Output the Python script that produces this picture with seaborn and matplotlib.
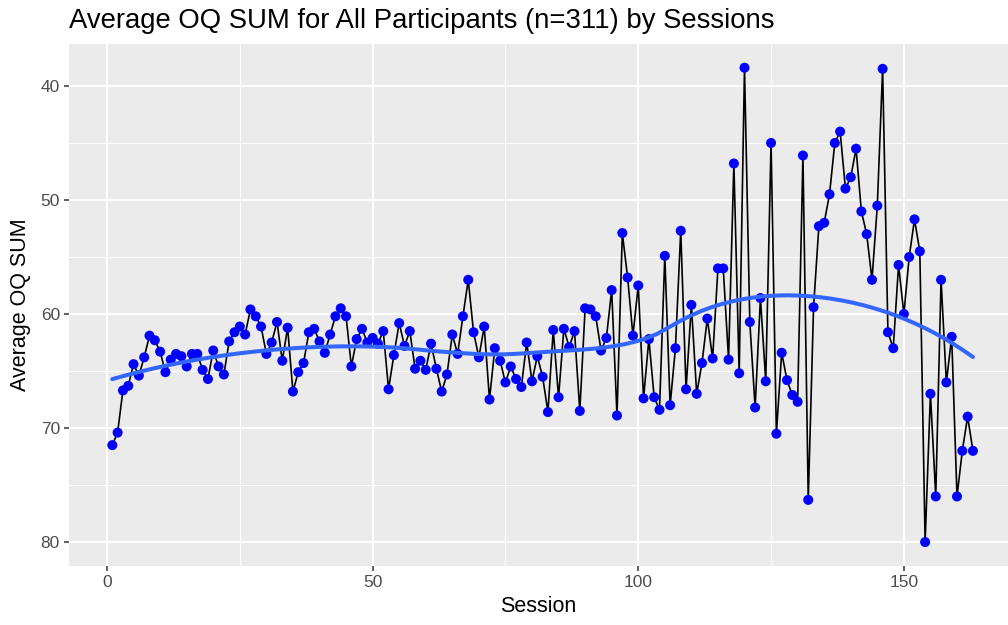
import numpy as np
import pandas as pd
import matplotlib
matplotlib.use("Agg")
import matplotlib.pyplot as plt
import seaborn as sns
from matplotlib.ticker import MultipleLocator

# ---------------- data ----------------
avg_oq_sum = [
    71.5, 70.4, 66.7, 66.3, 64.4, 65.4, 63.8, 61.9, 62.3, 63.3,
    65.1, 64.0, 63.5, 63.7, 64.6, 63.5, 63.5, 64.9, 65.7, 63.2,
    64.6, 65.3, 62.4, 61.6, 61.1, 61.8, 59.6, 60.2, 61.1, 63.5,
    62.5, 60.7, 64.1, 61.2, 66.8, 65.1, 64.3, 61.6, 61.3, 62.4,
    63.4, 61.8, 60.2, 59.5, 60.2, 64.6, 62.2, 61.3, 62.5, 62.1,
    62.6, 61.5, 66.6, 63.6, 60.8, 62.8, 61.5, 64.8, 64.1, 64.9,
    62.6, 64.8, 66.8, 65.3, 61.8, 63.5, 60.2, 57.0, 61.6, 63.8,
    61.1, 67.5, 63.0, 64.1, 66.0, 64.6, 65.7, 66.4, 62.5, 65.9,
    63.7, 65.5, 68.6, 61.4, 67.3, 61.3, 62.9, 61.5, 68.5, 59.5,
    59.6, 60.2, 63.2, 62.1, 57.9, 68.9, 52.9, 56.8, 61.9, 57.5,
    67.4, 62.2, 67.3, 68.4, 54.9, 68.0, 63.0, 52.7, 66.6, 59.2,
    67.0, 64.3, 60.4, 63.9, 56.0, 56.0, 64.0, 46.8, 65.2, 38.4,
    60.7, 68.2, 58.6, 65.9, 45.0, 70.5, 63.4, 65.8, 67.1, 67.7,
    46.1, 76.3, 59.4, 52.3, 52.0, 49.5, 45.0, 44.0, 49.0, 48.0,
    45.5, 51.0, 53.0, 57.0, 50.5, 38.5, 61.6, 63.0, 55.7, 60.0,
    55.0, 51.7, 54.5, 80.0, 67.0, 76.0, 57.0, 66.0, 62.0, 76.0,
    72.0, 69.0, 72.0,
]
sessions = list(range(1, len(avg_oq_sum) + 1))

x_ticks = [0, 50, 100, 150]
y_ticks = [40, 50, 60, 70, 80]

title = "Average OQ SUM for All Participants (n=311) by Sessions"
x_label = "Session"
y_label = "Average OQ SUM"

df = pd.DataFrame({"Session": sessions, "OQ": avg_oq_sum})


# ---------------- loess (degree 2, span 0.75, like ggplot geom_smooth) ----------------
def loess(x, y, span=0.75, n_out=80):
    x = np.asarray(x, float)
    y = np.asarray(y, float)
    n = len(x)
    q = int(np.floor(n * span))
    xs = np.linspace(x.min(), x.max(), n_out)
    ys = []
    for x0 in xs:
        d = np.abs(x - x0)
        h = np.sort(d)[q - 1]
        u = np.clip(d / h, 0, 1)
        w = (1 - u ** 3) ** 3
        X = np.column_stack([np.ones(n), x - x0, (x - x0) ** 2])
        W = np.sqrt(w)
        beta, *_ = np.linalg.lstsq(X * W[:, None], y * W, rcond=None)
        ys.append(beta[0])
    return xs, np.array(ys)


sx, sy = loess(df["Session"], df["OQ"])
smooth = pd.DataFrame({"Session": sx, "OQ": sy})

# ---------------- styling ----------------
sns.set_theme(style="darkgrid")
plt.rcParams["font.family"] = ["Liberation Sans", "DejaVu Sans"]

fig = plt.figure(figsize=(10.08, 6.25), dpi=100)
ax = fig.add_axes([69 / 1008, (625 - 566) / 625, (1008 - 69) / 1008, (566 - 44) / 625])
ax.set_facecolor("#EBEBEB")

sns.lineplot(data=df, x="Session", y="OQ", ax=ax, color="black", linewidth=1.2,
             zorder=3, estimator=None, sort=False)
sns.scatterplot(data=df, x="Session", y="OQ", ax=ax, color="#0000FF", s=52,
                edgecolor="none", linewidth=0, zorder=4)
sns.lineplot(data=smooth, x="Session", y="OQ", ax=ax, color="#3366FF", linewidth=2.9,
             zorder=5, estimator=None, sort=False)

ax.set_xlim(-7.15, 169.6)
ax.set_ylim(82.1, 36.32)

ax.set_xticks(x_ticks)
ax.set_yticks(y_ticks)
ax.xaxis.set_minor_locator(MultipleLocator(25))
ax.yaxis.set_minor_locator(MultipleLocator(5))
ax.grid(which="major", color="white", linewidth=1.4)
ax.grid(which="minor", color="white", linewidth=0.7)
ax.set_axisbelow(True)
for sp in ax.spines.values():
    sp.set_visible(False)

ax.tick_params(axis="both", which="major", length=3.5, width=1.1, color="#333333",
               labelcolor="#4D4D4D", labelsize=12.5, pad=3, bottom=True, left=True)
ax.tick_params(axis="both", which="minor", length=0)

ax.set_xlabel(x_label, fontsize=15.5, color="black", labelpad=4)
ax.set_ylabel(y_label, fontsize=15.5, color="black", labelpad=7)

fig.text(69 / 1008, 1 - 28 / 625, title, fontsize=19.8, color="black",
         ha="left", va="baseline")

fig.savefig("out.png", dpi=100)
